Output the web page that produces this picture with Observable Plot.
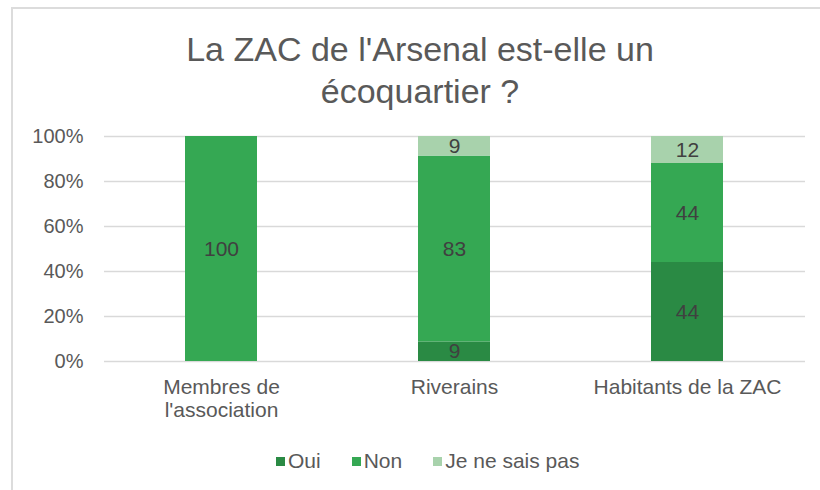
<!DOCTYPE html>
<html>
<head>
<meta charset="utf-8">
<script src="https://cdn.jsdelivr.net/npm/d3@7"></script>
<script src="https://cdn.jsdelivr.net/npm/@observablehq/plot@0.6"></script>
<style>
  html, body { margin: 0; padding: 0; background: #fff; }
  #wrap { position: relative; width: 820px; height: 490px; overflow: hidden; font-family: "Liberation Sans", Arial, sans-serif; }
  #frame { position: absolute; left: 11px; top: 7px; right: -5px; bottom: -5px; border-left: 2px solid #dcdcdc; border-top: 2px solid #dcdcdc; }
  #title { position: absolute; left: 0; width: 840px; top: 28px; text-align: center; font-size: 34px; line-height: 42px; color: #595959; }
  #chart { position: absolute; left: 0; top: 0; }
  #legend { position: absolute; top: 449px; left: 276px; display: flex; gap: 31px; font-size: 21px; color: #595959; line-height: 24px; }
  .item { display: flex; align-items: center; }
  .sw { width: 9px; height: 9px; margin-right: 3px; margin-top: 1px; }
</style>
</head>
<body>
<div id="wrap">
  <div id="frame"></div>
  <div id="title">La ZAC de l'Arsenal est-elle un<br>écoquartier ?</div>
  <div id="chart"></div>
  <div id="legend"></div>
</div>
<script>
const categories = ["Membres de l'association", "Riverains", "Habitants de la ZAC"];
const categoryLabels = ["Membres de\nl'association", "Riverains", "Habitants de la ZAC"];
const series = ["Oui", "Non", "Je ne sais pas"];
const oui = [0, 8.7, 44];
const non = [100, 82.6, 44];
const nsp = [0, 8.7, 12];
const colors = ["#2a8a44", "#35a853", "#a8d2ac"];
const yTicks = [0, 20, 40, 60, 80, 100];

const seriesValues = [oui, non, nsp];
const data = [];
categories.forEach((c, i) => {
  series.forEach((s, j) => {
    data.push({category: c, series: s, value: seriesValues[j][i]});
  });
});

const labelMap = new Map(categories.map((c, i) => [c, categoryLabels[i]]));

const plot = Plot.plot({
  width: 820,
  height: 490,
  marginTop: 136,
  marginBottom: 129,
  marginLeft: 104,
  marginRight: 15,
  style: {fontFamily: "Liberation Sans, Arial, sans-serif", background: "transparent"},
  x: {domain: categories, paddingInner: 0.69, paddingOuter: 0.345, label: null},
  y: {domain: [0, 100], label: null},
  color: {domain: series, range: colors},
  marks: [
    Plot.gridY(yTicks, {stroke: "#d9d9d9", strokeOpacity: 1, strokeWidth: 1.5}),
    Plot.barY(data, Plot.stackY({x: "category", y: "value", fill: "series", order: null})),
    Plot.text(data, Plot.stackY({
      x: "category", y: "value", order: null,
      text: d => d.value > 0 ? d3.format(".0f")(d.value) : "",
      fontSize: 21, fill: "#404040"
    })),
    Plot.axisY({ticks: yTicks, tickFormat: d => d + "%", tickSize: 0, tickPadding: 21, fontSize: 20, fill: "#595959"}),
    Plot.axisX({tickSize: 0, tickPadding: 17, fontSize: 21, fill: "#595959", lineHeight: 1.07, tickFormat: d => labelMap.get(d)})
  ]
});
document.getElementById("chart").appendChild(plot);

const legend = document.getElementById("legend");
series.forEach((s, i) => {
  const item = document.createElement("div");
  item.className = "item";
  const sw = document.createElement("div");
  sw.className = "sw";
  sw.style.background = colors[i];
  const t = document.createElement("span");
  t.textContent = s;
  item.appendChild(sw);
  item.appendChild(t);
  legend.appendChild(item);
});
</script>
</body>
</html>
